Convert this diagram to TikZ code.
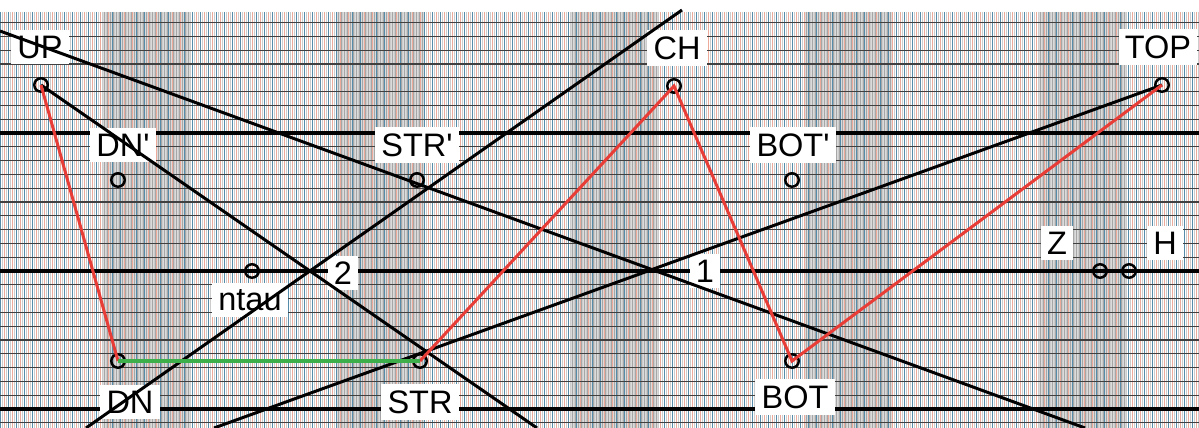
\documentclass[tikz,border=0pt]{standalone}
\usepackage{fontspec}
\setmainfont{Liberation Sans}
\usepackage{tikz}

\definecolor{gridblue}{RGB}{85,140,170}
\definecolor{gridred}{RGB}{236,170,155}
\definecolor{redline}{RGB}{232,60,55}
\definecolor{greenline}{RGB}{60,175,75}

\begin{document}
\begin{tikzpicture}[x=0.02cm, y=-0.02cm,
    vblue/.style={gridblue, line width=0.45pt},
    vred/.style={gridred, line width=0.4pt},
    vgray/.style={black!35, line width=0.3pt},
    band/.style={fill=black!14},
    hthin/.style={black!75, line width=0.75pt},
    hthick/.style={black, line width=2.5pt},
    diag/.style={black, line width=1.7pt},
    rline/.style={redline, line width=1.7pt},
    lbl/.style={fill=white, inner sep=3.5pt, font=\fontsize{18.5}{21}\selectfont},
    pt/.style={circle, draw, line width=1.4pt, minimum size=0.27cm, inner sep=0pt}]
    \useasboundingbox (0,0) rectangle (1199,428);
    \fill[white] (0,0) rectangle (1199,428);

    % Bands of denser ruling
    \foreach \bx in {103,337,571,805,1039}
        \fill[band] (\bx,12) rectangle +(88,416);
    % Vertical ruling
    \foreach \i in {0,...,150} {
        \draw[vblue] (\i*8,12) -- (\i*8,428);
        \draw[vred] (\i*8+4,12) -- (\i*8+4,428);
        \draw[vred, black!20] (\i*8+2,12) -- (\i*8+2,428);
        \draw[vred, black!20] (\i*8+6,12) -- (\i*8+6,428);
    }
    \foreach \bx in {103,337,571,805,1039}
        \foreach \j in {0,...,28}
            \draw[vgray] (\bx+1+\j*3,12) -- (\bx+1+\j*3,428);
    % Horizontal ruling, every tenth line heavy
    \foreach \k in {0,...,29}
        \draw[hthin] (0,{22.6+13.8*\k}) -- (1199,{22.6+13.8*\k});
    \foreach \k in {8,18,28}
        \draw[hthick] (0,{22.6+13.8*\k}) -- (1199,{22.6+13.8*\k});

    % Labels
    \node[lbl] (lUP) at (40,47) {UP};
    \node[lbl] (lCH) at (677,48) {CH};
    \node[lbl] (lTOP) at (1158,47) {TOP};
    \node[lbl] (lDNp) at (123,145) {DN\textquotesingle};
    \node[lbl] (lSTRp) at (417,145) {STR\textquotesingle};
    \node[lbl] (lBOTp) at (793,145) {BOT\textquotesingle};
    \node[lbl] (lntau) at (250,300) {ntau};
    \node[lbl] (ltwo) at (343,273) {2};
    \node[lbl] (lone) at (705,271) {1};
    \node[lbl] (lZ) at (1057,243) {Z};
    \node[lbl] (lH) at (1165,243) {H};
    \node[lbl] (lDN) at (130,402) {DN};
    \node[lbl] (lSTR) at (420,402) {STR};
    \node[lbl] (lBOT) at (795,397) {BOT};

    % Points
    \node[pt] (UP) at (41,85) {};
    \node[pt] (CH) at (674,86) {};
    \node[pt] (TOP) at (1162,85) {};
    \node[pt] (DNp) at (118,180) {};
    \node[pt] (STRp) at (417,180) {};
    \node[pt] (BOTp) at (792,180) {};
    \node[pt] (ntau) at (252,271) {};
    \node[pt] (Z) at (1100,271) {};
    \node[pt] (H) at (1129,271) {};
    \node[pt] (DN) at (118,361) {};
    \node[pt] (STR) at (420,361) {};
    \node[pt] (BOT) at (792,361) {};

    % Free ends of the long lines
    \coordinate (a1) at (0,31);
    \coordinate (a2) at (1085,428);
    \coordinate (b2) at (537,428);
    \coordinate (c1) at (86,428);
    \coordinate (c2) at (682,10);
    \coordinate (d1) at (214,428);

    % Black construction lines
    \draw[diag] (a1) -- (a2);
    \draw[diag] (UP.center) -- (b2);
    \draw[diag] (c1) -- (c2);
    \draw[diag] (d1) -- (TOP.center);

    % Red path and green link
    \draw[rline] (UP.center) -- (DN.center);
    \draw[rline] (STR.center) -- (CH.center) -- (BOT.center) -- (TOP.center);
    \draw[greenline, line width=2pt] (DN.center) -- (STR.center);
\end{tikzpicture}
\end{document}
